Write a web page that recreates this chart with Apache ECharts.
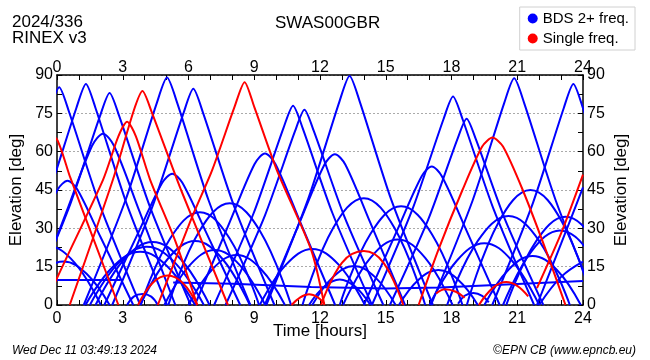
<!DOCTYPE html>
<html><head><meta charset="utf-8">
<script src="https://cdn.jsdelivr.net/npm/echarts@6/dist/echarts.min.js"></script>
<style>html,body{margin:0;padding:0;background:#fff}#c{width:650px;height:360px}</style>
</head><body><div id="c"></div>
<script>
// hour ticks / elevation ticks
const hourTicks = [0, 3, 6, 9, 12, 15, 18, 21, 24];
const elevTicks = [0, 15, 30, 45, 60, 75, 90];

// BDS multi-frequency satellites: high MEO passes [hour, elevation]
const bdsHigh = [
  [[-3.6,0],[-1.75,39.2],[-0.34,75.8],[0.1,85.2],[0.54,75.8],[1.95,39.2],[3.8,0]],
  [[-2.38,0],[-0.53,39.8],[0.88,77],[1.32,86.5],[1.76,77],[3.17,39.8],[5.02,0]],
  [[-1.3,0],[0.55,38.2],[1.96,73.9],[2.4,83],[2.84,73.9],[4.25,38.2],[6.1,0]],
  [[1.22,0],[3.12,40.9],[4.56,79.2],[5.02,89],[5.48,79.2],[6.92,40.9],[8.82,0]],
  [[2.52,0],[4.37,38.9],[5.78,75.3],[6.22,84.6],[6.66,75.3],[8.07,38.9],[9.92,0]],
  [[7.17,0],[8.97,35.9],[10.34,69.4],[10.77,78],[11.2,69.4],[12.57,35.9],[14.37,0]],
  [[7.69,0],[9.49,35.1],[10.86,68],[11.29,76.4],[11.72,68],[13.09,35.1],[14.89,0]],
  [[9.55,0],[11.45,41.2],[12.89,79.7],[13.35,89.6],[13.81,79.7],[15.25,41.2],[17.15,0]],
  [[14.37,0],[16.22,37.5],[17.63,72.6],[18.07,81.6],[18.51,72.6],[19.92,37.5],[21.77,0]],
  [[15.19,0],[16.94,33.5],[18.27,64.9],[18.69,72.9],[19.11,64.9],[20.44,33.5],[22.19,0]],
  [[17.06,0],[18.96,40.8],[20.4,78.9],[20.86,88.7],[21.32,78.9],[22.76,40.8],[24.66,0]],
  [[19.86,0],[21.71,39.8],[23.12,77],[23.56,86.5],[24.0,77],[25.41,39.8],[27.26,0]],
  [[21.9,0],[23,24],[24,46]]
];

// BDS medium passes
const bdsMid = [
  [[-1.2,0],[0.45,36.9],[1.6,62.3],[2.1,67],[2.6,62.3],[3.75,36.9],[5.4,0]],
  [[2.16,0],[3.71,28.3],[4.8,47.8],[5.26,51.4],[5.72,47.8],[6.81,28.3],[8.36,0]],
  [[-2.52,0],[-1.02,26.7],[0.03,45.2],[0.48,48.6],[0.93,45.2],[1.98,26.7],[3.48,0]],
  [[6.29,0],[7.89,32.6],[9.01,55.1],[9.49,59.3],[9.97,55.1],[11.09,32.6],[12.69,0]],
  [[9.48,0],[11.08,32.5],[12.2,54.9],[12.68,59],[13.16,54.9],[14.28,32.5],[15.88,0]],
  [[14.0,0],[15.55,29.8],[16.64,50.4],[17.1,54.2],[17.56,50.4],[18.65,29.8],[20.2,0]]
];

// BDS low passes
const bdsLow = [
  [[11.2,0],[12.6,30.1],[14.0,41.8],[15.4,30.1],[16.8,0]],
  [[12.9,0],[14.3,27.8],[15.7,38.6],[17.1,27.8],[18.5,0]],
  [[13.05,0],[14.3,18.4],[15.55,25.6],[16.8,18.4],[18.05,0]],
  [[9.25,0],[10.45,15.8],[11.65,21.9],[12.85,15.8],[14.05,0]],
  [[11.65,0],[12.6,11],[13.55,15.3],[14.5,11],[15.45,0]],
  [[5.08,0],[6.48,28.7],[7.88,39.8],[9.28,28.7],[10.68,0]],
  [[3.82,0],[5.17,26.1],[6.52,36.3],[7.87,26.1],[9.22,0]],
  [[3.8,0],[5.05,18],[6.3,25],[7.55,18],[8.8,0]],
  [[1.76,0],[3.06,17.8],[4.36,24.7],[5.66,17.8],[6.96,0]],
  [[1.5,0],[2.8,16.4],[4.1,22.8],[5.4,16.4],[6.7,0]],
  [[1.3,0],[2.55,15],[3.8,20.8],[5.05,15],[6.3,0]],
  [[18.7,0],[20.15,32.4],[21.6,45],[23.05,32.4],[24.5,0]],
  [[17.8,0],[19.2,25.1],[20.6,34.8],[22.0,25.1],[23.4,0]],
  [[17.0,0],[18.25,17.4],[19.5,24.2],[20.75,17.4],[22.0,0]],
  [[20.5,0],[21.85,24.8],[23.2,34.5],[24.55,24.8],[25.9,0]],
  [[20.35,0],[21.65,21],[22.95,29.2],[24.25,21],[25.55,0]],
  [[19.5,0],[20.6,13.8],[21.7,19.2],[22.8,13.8],[23.9,0]],
  [[6.0,0],[7.1,14.1],[8.2,19.6],[9.3,14.1],[10.4,0]],
  [[4.9,0],[6.05,15.5],[7.2,21.5],[8.35,15.5],[9.5,0]],
  [[-1.8,0],[-0.75,12.2],[0.3,17],[1.35,12.2],[2.4,0]],
  [[-2.8,0],[-1.6,16.6],[-0.4,23],[0.8,16.6],[2.0,0]],
  [[3.2,0],[3.5,3.3],[3.9,4.3],[4.3,3.3],[4.6,0]],
  [[18.3,0.5],[18.6,3.6],[19.0,4.7],[19.4,3.6],[19.7,1]],
  [[15.6,0],[16.5,9.9],[17.4,13.7],[18.3,9.9],[19.2,0]],
  [[11.5,0],[12.2,7.2],[12.9,10],[13.6,7.2],[14.3,0]],
  [[22.0,0],[23.0,11],[24,17]]
];

// BDS geostationary-like tracks
const bdsGeo = [
  [[0,9.8],[2.9,9.8]],
  [[5.3,8.8],[8,8.3],[11.6,7.0],[15,6.5],[17.5,6.8],[21,8.2],[24,9.4]]
];

// Single-frequency satellites
const singleHigh = [
  [[-0.5,67],[0,64.8],[0.6,50],[1.7,25],[2.8,0]],
  [[0.58,0],[2.55,49],[3.5,76],[3.9,83.7],[4.3,76],[5.66,45],[7.8,0]],
  [[-0.5,0],[0,10.5],[2.1,49],[2.8,66],[3.2,71.7],[3.6,66],[4.25,49],[5.4,25],[6.4,0]],
  [[4.6,0],[6.17,34.6],[7.08,52.8],[8.1,77.5],[8.56,87.2],[9.0,77.5],[10.03,52.8],[11.6,21.5],[12.2,0]],
  [[16.5,0],[17.4,21.6],[18.5,45],[19.4,62],[19.87,65.5],[20.35,62],[21.25,45],[22.3,21.6],[23.2,0]],
  [[21.9,6.6],[23,28],[24,51]]
];
const singleLow = [
  [[3.7,0],[4.35,8.5],[5.05,11.5],[5.75,8.5],[6.4,0]],
  [[12.05,0],[13.0,16.5],[14.0,21.1],[14.9,16.5],[15.8,0]],
  [[10.7,0],[11.1,3],[11.5,4.2],[11.9,3],[12.2,0.5]],
  [[19.25,0],[19.9,6.8],[20.5,9],[21.0,7.5],[21.5,3.4]],
  [[17.3,4.5],[17.7,6.2],[18.2,5.2],[18.6,2.8]]
];

const BLUE = '#0000ff', RED = '#ff0000';
const NAME_B = 'BDS 2+ freq.', NAME_S = 'Single freq.';
const FONT = 'Liberation Sans, Arial, Helvetica, sans-serif';

const series = [];
function add(tracks, name, color, smooth) {
  tracks.forEach(t => series.push({
    type: 'line', name: name, data: t, xAxisIndex: 0, yAxisIndex: 0,
    showSymbol: false, symbol: 'circle', clip: true,
    smooth: smooth,
    lineStyle: { color: color, width: 2 }, itemStyle: { color: color },
    emphasis: { disabled: true }
  }));
}
add(bdsHigh, NAME_B, BLUE, 0.25);
add(bdsMid, NAME_B, BLUE, 0.3);
add(bdsLow, NAME_B, BLUE, 0.4);
add(bdsGeo, NAME_B, BLUE, false);
add(singleHigh, NAME_S, RED, 0.25);
add(singleLow, NAME_S, RED, 0.4);

const axisLine = { show: true, onZero: false, lineStyle: { color: '#000', width: 1.5 } };
const labelStyle = { color: '#000', fontSize: 16, fontFamily: FONT };

const chart = echarts.init(document.getElementById('c'), null, { renderer: 'canvas' });
chart.setOption({
  animation: false,
  backgroundColor: '#fff',
  title: [
    { text: 'SWAS00GBR', left: 270, top: 10, textStyle: { fontSize: 17, fontWeight: 'normal', color: '#000', fontFamily: FONT } },
    { text: '2024/336\nRINEX v3', left: 7, top: 9, textStyle: { fontSize: 17, lineHeight: 16, fontWeight: 'normal', color: '#000', fontFamily: FONT } },
    { text: 'Wed Dec 11 03:49:13 2024', left: 7, top: 340, textStyle: { fontSize: 12, fontStyle: 'italic', fontWeight: 'normal', color: '#000', fontFamily: FONT } },
    { text: '\u00A9EPN CB (www.epncb.eu)', right: 9, top: 340, textStyle: { fontSize: 12, fontStyle: 'italic', fontWeight: 'normal', color: '#000', fontFamily: FONT } }
  ],
  legend: {
    data: [{ name: NAME_B, icon: 'circle' }, { name: NAME_S, icon: 'circle' }],
    orient: 'vertical', right: 15, top: 7,
    itemWidth: 10, itemHeight: 10, itemGap: 5,
    padding: [4, 6, 4, 8],
    borderColor: '#d0d0d0', borderWidth: 1,
    textStyle: { fontSize: 15, color: '#000', fontFamily: FONT },
    selectedMode: false
  },
  grid: { left: 54, right: 67, top: 75, bottom: 55, containLabel: false },
  xAxis: [
    { type: 'value', position: 'bottom', min: 0, max: 24, interval: 3,
      name: 'Time [hours]', nameLocation: 'middle', nameGap: 18, nameMoveOverlap: false,
      nameTextStyle: { fontSize: 17, color: '#000', fontFamily: FONT },
      axisLine: axisLine, axisTick: { show: true, inside: true, length: 5, lineStyle: { color: '#000' } },
      minorTick: { show: true, splitNumber: 3, length: 5, lineStyle: { color: '#000' } },
      axisLabel: Object.assign({ margin: 6, formatter: v => hourTicks.includes(v) ? String(v) : '' }, labelStyle),
      splitLine: { show: false } },
    { type: 'value', position: 'top', min: 0, max: 24, interval: 3,
      axisLine: axisLine, axisTick: { show: true, inside: true, length: 5, lineStyle: { color: '#000' } },
      minorTick: { show: true, splitNumber: 3, length: 5, lineStyle: { color: '#000' } },
      axisLabel: Object.assign({ margin: -1 }, labelStyle),
      splitLine: { show: false } }
  ],
  yAxis: [
    { type: 'value', position: 'left', min: 0, max: 90, interval: 15,
      name: 'Elevation [deg]', nameLocation: 'middle', nameGap: 32, nameRotate: 90, nameMoveOverlap: false,
      nameTextStyle: { fontSize: 17, color: '#000', fontFamily: FONT },
      axisLine: axisLine, axisTick: { show: true, inside: true, length: 5, lineStyle: { color: '#000' } },
      minorTick: { show: true, splitNumber: 2, length: 5, lineStyle: { color: '#000' } },
      axisLabel: Object.assign({ margin: 4, formatter: v => elevTicks.includes(v) ? String(v) : '' }, labelStyle),
      splitLine: { show: true, lineStyle: { color: '#aaa', type: [2, 2], width: 1 } } },
    { type: 'value', position: 'right', min: 0, max: 90, interval: 15,
      name: 'Elevation [deg]', nameLocation: 'middle', nameGap: 30, nameRotate: 90, nameMoveOverlap: false,
      nameTextStyle: { fontSize: 17, color: '#000', fontFamily: FONT },
      axisLine: axisLine, axisTick: { show: true, inside: true, length: 5, lineStyle: { color: '#000' } },
      minorTick: { show: true, splitNumber: 2, length: 5, lineStyle: { color: '#000' } },
      axisLabel: Object.assign({ margin: 4 }, labelStyle),
      splitLine: { show: false } }
  ],
  series: series
});
</script>
</body></html>
